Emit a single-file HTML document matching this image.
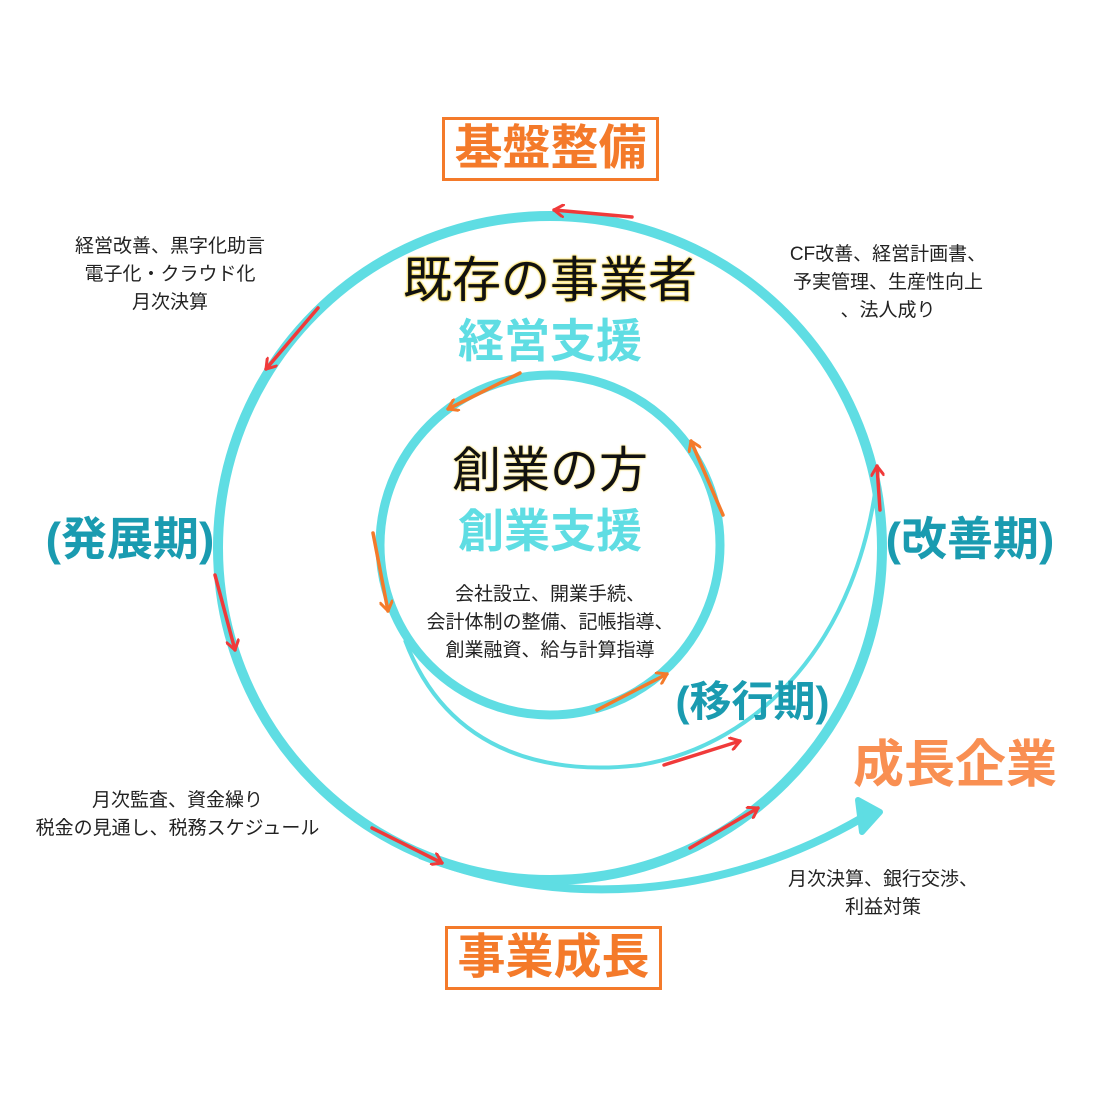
<!DOCTYPE html>
<html><head><meta charset="utf-8"><style>
html,body{margin:0;padding:0;background:#fff;}
#c{position:relative;width:1100px;height:1100px;overflow:hidden;font-family:"Liberation Sans","Noto Sans CJK JP",sans-serif;}
.t{position:absolute;white-space:nowrap;text-align:center;}
.s{font-size:19px;line-height:28px;color:#222;}
.box{position:absolute;border:3px solid #f47a2a;color:#f47a2a;font-weight:bold;font-size:48px;line-height:58px;text-align:center;box-sizing:border-box;}
.p{color:#1a9bb0;font-weight:bold;font-size:46px;}
</style></head><body><div id="c">
<svg width="1100" height="1100" style="position:absolute;left:0;top:0">
<defs>
<marker id="r" markerWidth="14" markerHeight="14" refX="11" refY="7" orient="auto" markerUnits="userSpaceOnUse"><path d="M2,1 L11,7 L2,13" fill="none" stroke="#f03a3a" stroke-width="3" stroke-linecap="round" stroke-linejoin="round"/></marker>
<marker id="o" markerWidth="14" markerHeight="14" refX="11" refY="7" orient="auto" markerUnits="userSpaceOnUse"><path d="M2,1 L11,7 L2,13" fill="none" stroke="#f47a2a" stroke-width="3" stroke-linecap="round" stroke-linejoin="round"/></marker>
</defs>
<circle cx="550" cy="548" r="332" fill="none" stroke="#5fdde3" stroke-width="10"/>
<circle cx="550" cy="545" r="170" fill="none" stroke="#5fdde3" stroke-width="9"/>
<path d="M405,640 C450,760 560,775 640,765 C760,745 860,640 878,470" fill="none" stroke="#5fdde3" stroke-width="4"/>
<path d="M420,855 C560,910 720,900 862,818" fill="none" stroke="#5fdde3" stroke-width="8"/>
<path d="M858,800 L880,812 L862,832 Z" fill="#5fdde3" stroke="#5fdde3" stroke-width="6" stroke-linejoin="round"/>
<g stroke="#f03a3a" stroke-width="3.5" fill="none" stroke-linecap="round">
<line x1="632" y1="217" x2="554" y2="210" marker-end="url(#r)"/>
<line x1="318" y1="308" x2="266" y2="369" marker-end="url(#r)"/>
<line x1="215" y1="575" x2="235" y2="650" marker-end="url(#r)"/>
<line x1="372" y1="828" x2="442" y2="863" marker-end="url(#r)"/>
<line x1="690" y1="848" x2="758" y2="808" marker-end="url(#r)"/>
<line x1="664" y1="765" x2="740" y2="741" marker-end="url(#r)"/>
<line x1="880" y1="510" x2="877" y2="466" marker-end="url(#r)"/>
</g>
<g stroke="#f47a2a" stroke-width="3.5" fill="none" stroke-linecap="round">
<line x1="520" y1="373" x2="448" y2="409" marker-end="url(#o)"/>
<line x1="373" y1="533" x2="388" y2="611" marker-end="url(#o)"/>
<line x1="597" y1="710" x2="667" y2="674" marker-end="url(#o)"/>
<line x1="723" y1="515" x2="691" y2="441" marker-end="url(#o)"/>
</g>
</svg>
<div class="box" style="left:442px;top:117px;width:217px;height:64px;">基盤整備</div>
<div class="box" style="left:445px;top:926px;width:217px;height:64px;">事業成長</div>
<div class="t" style="left:325px;width:450px;top:250px;font-size:49px;line-height:62px;color:#111;text-shadow:0 0 2px #f5d020,0 0 2px #f5d020;">既存の事業者</div>
<div class="t" style="left:350px;width:400px;top:312px;font-size:46px;line-height:58px;color:#5fdde3;font-weight:bold;">経営支援</div>
<div class="t" style="left:350px;width:400px;top:440px;font-size:49px;line-height:62px;color:#111;text-shadow:0 0 2px #f5d020;">創業の方</div>
<div class="t" style="left:350px;width:400px;top:502px;font-size:46px;line-height:58px;color:#5fdde3;font-weight:bold;">創業支援</div>
<div class="t s" style="left:360px;width:380px;top:581px;">会社設立、開業手続、<br>会計体制の整備、記帳指導、<br>創業融資、給与計算指導</div>
<div class="t s" style="left:20px;width:300px;top:233px;">経営改善、黒字化助言<br>電子化・クラウド化<br>月次決算</div>
<div class="t s" style="left:738px;width:300px;top:241px;">CF改善、経営計画書、<br>予実管理、生産性向上<br>、法人成り</div>
<div class="t s" style="left:0px;width:355px;top:787px;">月次監査、資金繰り<br>税金の見通し、税務スケジュール</div>
<div class="t s" style="left:733px;width:300px;top:866px;">月次決算、銀行交渉、<br>利益対策</div>
<div class="t p" style="left:25px;width:210px;top:508px;line-height:62px;">(発展期)</div>
<div class="t p" style="left:865px;width:210px;top:508px;line-height:62px;">(改善期)</div>
<div class="t p" style="left:655px;width:195px;top:674px;font-size:42px;line-height:56px;">(移行期)</div>
<div class="t" style="left:840px;width:230px;top:732px;font-size:51px;line-height:66px;font-weight:bold;color:#f98f52;">成長企業</div>
</div></body></html>
